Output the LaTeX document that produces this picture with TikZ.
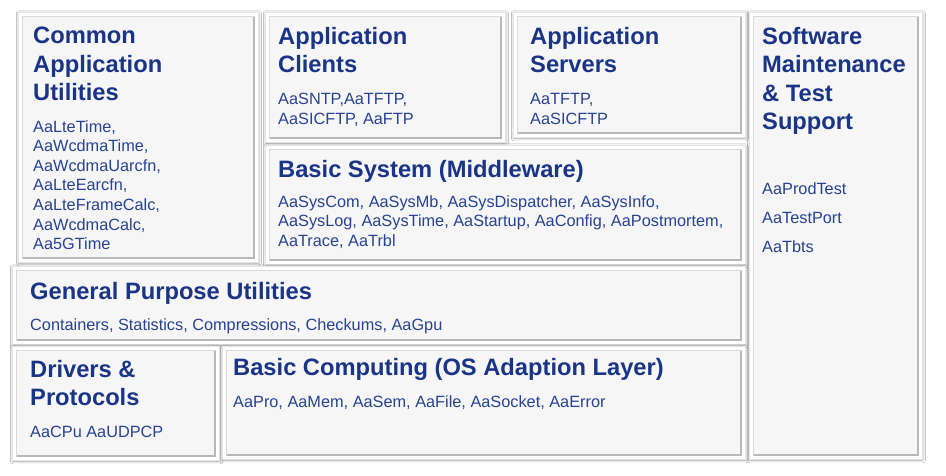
\documentclass[tikz,border=0pt]{standalone}
\usepackage{fontspec}
\setmainfont{Liberation Sans}
\usepackage{xcolor}
\usetikzlibrary{calc,shadows.blur}

\definecolor{titleblue}{RGB}{26,52,134}
\definecolor{bodyblue}{RGB}{40,66,148}
\definecolor{panelgray}{RGB}{246,246,246}

\tikzset{
  panel/.style={anchor=north west, inner sep=0pt, fill=white, draw=black!10, line width=0.5pt,
    blur shadow={shadow xshift=0.6pt, shadow yshift=-1pt, shadow blur radius=2.5pt, shadow opacity=40}},
  ttl/.style={anchor=north west, inner sep=0pt, align=left, text=titleblue,
    font=\fontsize{23.7}{28.5}\selectfont\bfseries},
  txt/.style={anchor=north west, inner sep=0pt, align=left, text=bodyblue,
    font=\fontsize{16.3}{19.6}\selectfont},
}

\begin{document}
\begin{tikzpicture}[x=1pt,y=-1pt]
\useasboundingbox[fill=white] (0,0) rectangle (946,475);
% the boxes
\foreach \n/\x/\y/\w/\h in {cau/18/12/240/250,cli/265/12/240/130,srv/513/12/232/125,
    sms/749/12/173/447,bsm/265/145/480/119,gpu/12/266/733/78,drv/12/346/207/114,bcp/222/346/523/113}
  \node[panel, minimum width=\w pt, minimum height=\h pt] (\n) at (\x,\y) {};
\foreach \n in {cau,cli,srv,sms,bsm,gpu,drv,bcp} {
  \filldraw[fill=panelgray, draw=black!15, line width=0.5pt]
    ($(\n.north west)+(4pt,-4pt)$) rectangle ($(\n.south east)+(-4pt,4pt)$);
  \draw[black!28, line width=2pt]
    ($(\n.south west)+(5pt,5pt)$) -- ($(\n.south east)+(-5pt,5pt)$) -- ($(\n.north east)+(-5pt,-5pt)$);
}
% titles and contents
\node[ttl] (cau-t) at (33,27) {Common\\Application\\Utilities};
\node[txt] (cau-b) at (33,120) {AaLteTime,\\AaWcdmaTime,\\AaWcdmaUarcfn,\\AaLteEarcfn,\\AaLteFrameCalc,\\AaWcdmaCalc,\\Aa5GTime};
\node[ttl] (cli-t) at (278,27) {Application\\Clients};
\node[txt] (cli-b) at (278,93) {AaSNTP,AaTFTP,\\AaSICFTP, AaFTP};
\node[ttl] (srv-t) at (530,27) {Application\\Servers};
\node[txt] (srv-b) at (530,93) {AaTFTP,\\AaSICFTP};
\node[ttl] (sms-t) at (762,27) {Software\\Maintenance\\\& Test\\Support};
\node[txt, font=\fontsize{16.3}{29}\selectfont] (sms-b) at (762,182) {AaProdTest\\AaTestPort\\AaTbts};
\node[ttl] (bsm-t) at (278,160) {Basic System (Middleware)};
\node[txt] (bsm-b) at (278,195) {AaSysCom, AaSysMb, AaSysDispatcher, AaSysInfo,\\AaSysLog, AaSysTime, AaStartup, AaConfig, AaPostmortem,\\AaTrace, AaTrbl};
\node[ttl] (gpu-t) at (30,282) {General Purpose Utilities};
\node[txt] (gpu-b) at (30,318) {Containers, Statistics, Compressions, Checkums, AaGpu};
\node[ttl] (drv-t) at (30,360) {Drivers \&\\Protocols};
\node[txt] (drv-b) at (30,426) {AaCPu AaUDPCP};
\node[ttl] (bcp-t) at (233,358) {Basic Computing (OS Adaption Layer)};
\node[txt] (bcp-b) at (233,395) {AaPro, AaMem, AaSem, AaFile, AaSocket, AaError};
\end{tikzpicture}
\end{document}
